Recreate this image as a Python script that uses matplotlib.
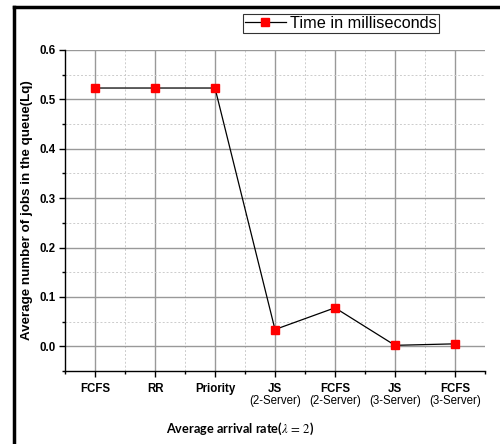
import matplotlib
matplotlib.use("Agg")
import matplotlib.pyplot as plt
from matplotlib.lines import Line2D
from matplotlib.ticker import MultipleLocator

cat_main = ["FCFS", "RR", "Priority", "JS", "FCFS", "JS", "FCFS"]
cat_sub = ["", "", "", "(2-Server)", "(2-Server)", "(3-Server)", "(3-Server)"]
lq_values = [0.523, 0.523, 0.523, 0.034, 0.078, 0.002, 0.005]
series_label = "Time in milliseconds"
y_ticks = [0.0, 0.1, 0.2, 0.3, 0.4, 0.5, 0.6]

plt.rcParams['font.family'] = ['Liberation Sans', 'DejaVu Sans']
plt.rcParams['mathtext.fontset'] = 'stix'

fig = plt.figure(figsize=(5.0, 4.44), dpi=100)
ax = fig.add_axes([0.13, 0.1644, 0.84, 0.723])

x = list(range(1, len(cat_main) + 1))
ax.plot(x, lq_values, color='black', lw=0.9, marker='s', markersize=5.8,
        markerfacecolor='#ff0000', markeredgecolor='#ff0000', zorder=3, label=series_label)

ax.set_xlim(0.5, 7.5)
ax.set_ylim(-0.05, 0.6)
ax.set_xticks(x)
ax.set_xticklabels(cat_main, fontweight='bold', fontsize=8.3)
for xi, sub in zip(x, cat_sub):
    if sub:
        ax.annotate(sub, xy=(xi, 0), xycoords=('data', 'axes fraction'),
                    xytext=(0, -21.5), textcoords='offset points',
                    ha='center', va='center', fontsize=8.3)
ax.xaxis.set_minor_locator(MultipleLocator(0.5))
ax.yaxis.set_minor_locator(MultipleLocator(0.05))
ax.set_yticks(y_ticks)
ax.set_yticklabels([f"{v:.1f}" for v in y_ticks], fontweight='bold', fontsize=8.3)

ax.grid(True, which='major', color='#999999', lw=1.0, ls='-')
ax.grid(True, which='minor', color='#cccccc', lw=0.7, ls=(0, (2, 2)))
ax.set_axisbelow(True)

for s in ['top', 'right']:
    ax.spines[s].set_visible(False)
for s in ['left', 'bottom']:
    ax.spines[s].set_color('black')
    ax.spines[s].set_linewidth(1.0)
ax.tick_params(which='major', direction='out', length=4, width=1)
ax.tick_params(axis='x', which='major', pad=4.5)
ax.tick_params(axis='y', which='major', pad=3)
ax.tick_params(which='minor', direction='out', length=2.5, width=1)

ax.set_ylabel("Average number of jobs in the queue(Lq)", fontweight='bold', fontsize=9.6)
ax.yaxis.set_label_coords(-0.076, 0.5)

fig.text(0.48, 0.034, r"Average arrival rate($\lambda\,=\,2$)", fontweight='bold',
         fontsize=9.2, ha='center', va='center', family=['Lato', 'DejaVu Sans'])

handle = Line2D([], [], color='black', lw=0.9, marker='s', markersize=5.8,
                markerfacecolor='#ff0000', markeredgecolor='#ff0000')
leg = fig.legend([handle], [series_label], loc='upper left',
                 bbox_to_anchor=(0.486, 0.969), fontsize=11.7, frameon=True,
                 fancybox=False, edgecolor='black', borderpad=0.12,
                 handlelength=2.5, handletextpad=0.3, borderaxespad=0)
leg.get_frame().set_linewidth(0.8)

# outer border lines (left and top)
fig.add_artist(Line2D([0.028, 1.0], [0.984, 0.984], color='black', lw=2.5, transform=fig.transFigure))
fig.add_artist(Line2D([0.028, 0.028], [0.0, 0.984], color='black', lw=2.5, transform=fig.transFigure))

fig.savefig("out.png", dpi=100)
